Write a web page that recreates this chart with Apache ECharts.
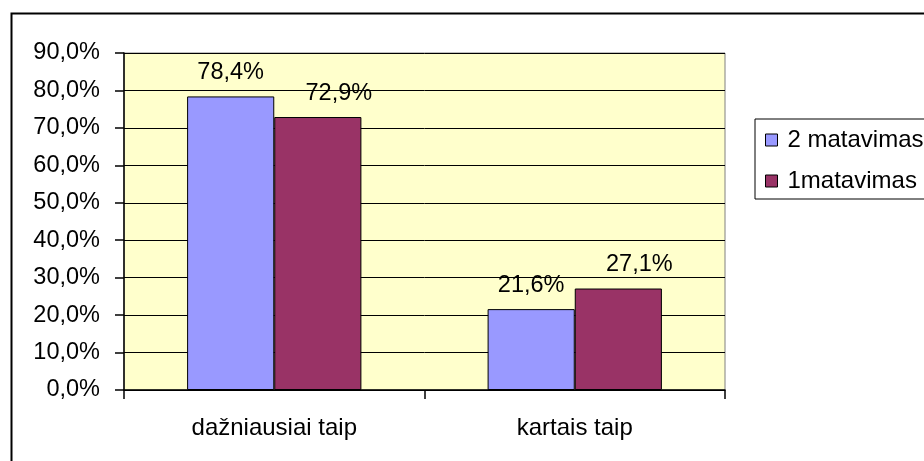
<!DOCTYPE html>
<html>
<head>
<meta charset="utf-8">
<script src="https://cdn.jsdelivr.net/npm/echarts@6/dist/echarts.min.js"></script>
<style>html,body{margin:0;padding:0;background:#fff}#c{width:924px;height:461px}</style>
</head>
<body>
<div id="c"></div>
<script>
var categories = ['dažniausiai taip', 'kartais taip'];
var seriesNames = ['2 matavimas', '1matavimas'];
var series2Values = [78.4, 21.6];
var series1Values = [72.9, 27.1];
var yTicks = [0, 10, 20, 30, 40, 50, 60, 70, 80, 90];

var FONT = 'Liberation Sans';
function pct(v) { return v.toFixed(1).replace('.', ',') + '%'; }

var chart = echarts.init(document.getElementById('c'), null, { renderer: 'canvas' });
chart.setOption({
  animation: false,
  backgroundColor: '#fff',
  textStyle: { fontFamily: FONT },
  graphic: [{
    type: 'rect', left: 9, top: 11, z: 100, silent: true,
    shape: { width: 1000, height: 1000 },
    style: { fill: 'none', stroke: '#000', lineWidth: 2 }
  }],
  legend: {
    orient: 'vertical',
    left: 755, top: 119,
    padding: [9, 200, 6, 10],
    itemGap: 17,
    itemWidth: 12, itemHeight: 12,
    icon: 'rect',
    borderColor: '#000', borderWidth: 1,
    itemStyle: { borderColor: '#000', borderWidth: 1 },
    textStyle: { fontFamily: FONT, fontSize: 24, color: '#000', padding: [0, 0, 0, 5] },
    data: seriesNames
  },
  grid: {
    left: 124, top: 53, right: 199, bottom: 71,
    show: true, backgroundColor: '#FFFFCC', borderColor: '#808080', borderWidth: 1
  },
  xAxis: {
    type: 'category',
    data: categories,
    axisLine: { lineStyle: { color: '#000', width: 1.5 } },
    axisTick: { show: true, length: 9, lineStyle: { color: '#000', width: 1.5 } },
    axisLabel: { margin: 26, fontFamily: FONT, fontSize: 24, color: '#000' }
  },
  yAxis: {
    type: 'value',
    min: yTicks[0], max: yTicks[yTicks.length - 1], interval: 10,
    axisLine: { show: true, lineStyle: { color: '#000', width: 1.5 } },
    axisTick: { show: true, length: 9, lineStyle: { color: '#000', width: 1.5 } },
    splitLine: { lineStyle: { color: '#000', width: 1 } },
    axisLabel: { margin: 24, fontFamily: FONT, fontSize: 23.5, color: '#000', formatter: pct }
  },
  series: [
    {
      name: seriesNames[0], type: 'bar', data: series2Values,
      barGap: '0%', barCategoryGap: '42%',
      itemStyle: { color: '#9999FF', borderColor: '#000', borderWidth: 1 },
      label: { show: true, position: 'top', distance: 12, fontFamily: FONT, fontSize: 23.5, color: '#000',
        formatter: function (p) { return pct(p.value); } }
    },
    {
      name: seriesNames[1], type: 'bar', data: series1Values,
      barGap: '0%', barCategoryGap: '42%',
      itemStyle: { color: '#993366', borderColor: '#000', borderWidth: 1 },
      label: { show: true, position: 'top', distance: 12, offset: [21, 0], fontFamily: FONT, fontSize: 23.5, color: '#000',
        formatter: function (p) { return pct(p.value); } }
    }
  ]
});
</script>
</body>
</html>
